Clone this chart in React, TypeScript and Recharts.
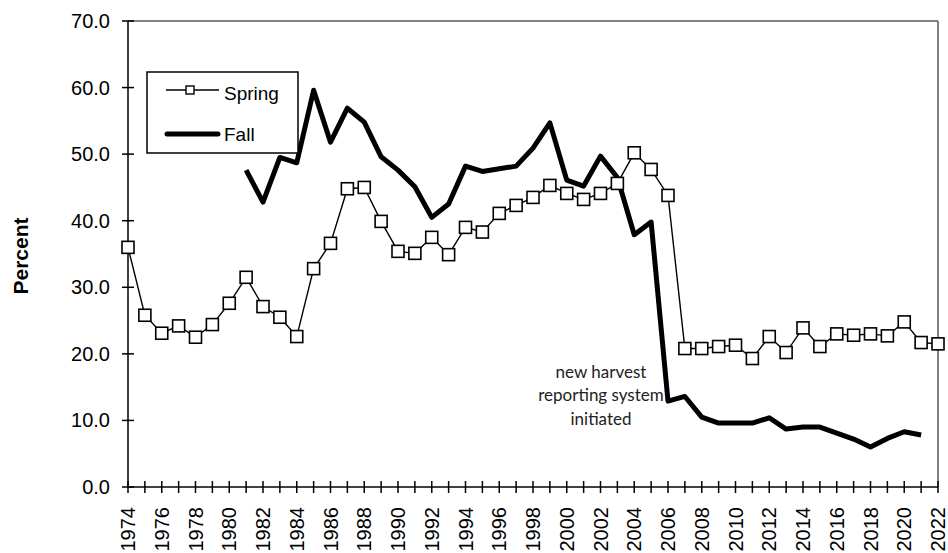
import { LineChart, Line, XAxis, YAxis, ReferenceLine } from 'recharts'

const years = [
  1974, 1975, 1976, 1977, 1978, 1979, 1980, 1981, 1982, 1983, 1984, 1985, 1986, 1987, 1988, 1989, 1990,
  1991, 1992, 1993, 1994, 1995, 1996, 1997, 1998, 1999, 2000, 2001, 2002, 2003, 2004, 2005, 2006, 2007,
  2008, 2009, 2010, 2011, 2012, 2013, 2014, 2015, 2016, 2017, 2018, 2019, 2020, 2021, 2022,
]

const spring = [
  36.0, 25.8, 23.1, 24.2, 22.5, 24.4, 27.6, 31.5, 27.1, 25.5, 22.6, 32.8, 36.6, 44.8, 45.0, 39.9, 35.4,
  35.1, 37.5, 34.9, 39.0, 38.3, 41.1, 42.3, 43.5, 45.3, 44.1, 43.2, 44.1, 45.6, 50.2, 47.7, 43.8, 20.8,
  20.8, 21.1, 21.3, 19.3, 22.6, 20.2, 23.9, 21.1, 23.0, 22.8, 23.0, 22.7, 24.8, 21.7, 21.5,
]

const fall: (number | null)[] = [
  null, null, null, null, null, null, null, 47.6, 42.8, 49.5, 48.7, 59.6, 51.8, 56.9, 54.8, 49.6, 47.6,
  45.1, 40.5, 42.5, 48.2, 47.4, 47.8, 48.2, 50.9, 54.7, 46.1, 45.2, 49.7, 46.5, 37.9, 39.8, 12.9, 13.6,
  10.5, 9.6, 9.6, 9.6, 10.4, 8.7, 9.0, 9.0, 8.1, 7.2, 6.0, 7.3, 8.3, 7.8, null,
]

const percentTicks = [0, 10, 20, 30, 40, 50, 60, 70]

const rows = years.map((year, i) => ({ year, spring: spring[i], fall: fall[i] }))

const AXIS_FONT = '"Liberation Sans", Arial, sans-serif'

function YearTick({ x, y, payload }: any) {
  const yr = payload.value as number
  const tx = x + 7
  const ty = y + 20
  return (
    <g>
      <line x1={x} x2={x} y1={y - 6} y2={y + 6} stroke="#000" strokeWidth={1.5} />
      {yr % 2 === 0 && (
        <text
          x={tx}
          y={ty}
          transform={`rotate(-90, ${tx}, ${ty})`}
          textAnchor="end"
          fontSize={20}
          fontFamily={AXIS_FONT}
          fill="#000"
        >
          {yr}
        </text>
      )}
    </g>
  )
}

function PctTick({ x, y, payload }: any) {
  return (
    <g>
      <line x1={x - 6} x2={x + 6} y1={y} y2={y} stroke="#000" strokeWidth={1.5} />
      <text x={x - 18} y={y + 7} textAnchor="end" fontSize={20} fontFamily={AXIS_FONT} fill="#000">
        {(payload.value as number).toFixed(1)}
      </text>
    </g>
  )
}

function SquareDot(props: any) {
  const { cx, cy, index } = props
  if (cx == null || cy == null) return <g key={`s-${index}`} />
  return (
    <rect key={`s-${index}`} x={cx - 6} y={cy - 6} width={12} height={12} fill="#fff" stroke="#000" strokeWidth={1.6} />
  )
}

export default function App() {
  return (
    <div style={{ position: 'absolute', left: 0, top: 0, width: 948, height: 553, background: '#fff' }}>
      <LineChart width={948} height={553} data={rows} margin={{ top: 21, right: 10, left: 68, bottom: 6 }}>
        <ReferenceLine y={70} stroke="#808080" strokeWidth={2} />
        <ReferenceLine x={2022} stroke="#808080" strokeWidth={2} />
        <XAxis
          dataKey="year"
          type="number"
          domain={[1974, 2022]}
          ticks={years}
          interval={0}
          height={60}
          tickSize={0}
          tickMargin={0}
          tick={<YearTick />}
          axisLine={{ stroke: '#000', strokeWidth: 1.5 }}
        />
        <YAxis
          domain={[0, 70]}
          ticks={percentTicks}
          interval={0}
          width={60}
          tickSize={0}
          tickMargin={0}
          tick={<PctTick />}
          axisLine={{ stroke: '#000', strokeWidth: 1.5 }}
        />
        <Line
          dataKey="fall"
          stroke="#000"
          strokeWidth={5}
          strokeLinejoin="round"
          dot={false}
          activeDot={false}
          isAnimationActive={false}
        />
        <Line
          dataKey="spring"
          stroke="#000"
          strokeWidth={1.4}
          dot={SquareDot}
          activeDot={false}
          isAnimationActive={false}
        />
      </LineChart>

      <svg width={948} height={553} style={{ position: 'absolute', left: 0, top: 0, pointerEvents: 'none' }}>
        <text
          x={28}
          y={256}
          transform="rotate(-90, 28, 256)"
          textAnchor="middle"
          fontSize={21}
          fontWeight="bold"
          fontFamily={AXIS_FONT}
          fill="#000"
        >
          Percent
        </text>

        <g fontFamily="Lato, sans-serif" fontSize={17} fill="#222" textAnchor="middle">
          <text x={601} y={378}>new harvest</text>
          <text x={601} y={401}>reporting system</text>
          <text x={601} y={425}>initiated</text>
        </g>

        <rect x={147} y={72} width={151} height={81} fill="#fff" stroke="#000" strokeWidth={1.5} />
        <line x1={166} x2={219} y1={90} y2={90} stroke="#000" strokeWidth={1.4} />
        <rect x={186} y={86} width={8} height={8} fill="#fff" stroke="#000" strokeWidth={1.4} />
        <text x={224} y={100} fontSize={19} fontFamily={AXIS_FONT} fill="#000">
          Spring
        </text>
        <line x1={167} x2={218} y1={134} y2={134} stroke="#000" strokeWidth={5} strokeLinecap="round" />
        <text x={224} y={141} fontSize={19} fontFamily={AXIS_FONT} fill="#000">
          Fall
        </text>
      </svg>
    </div>
  )
}
